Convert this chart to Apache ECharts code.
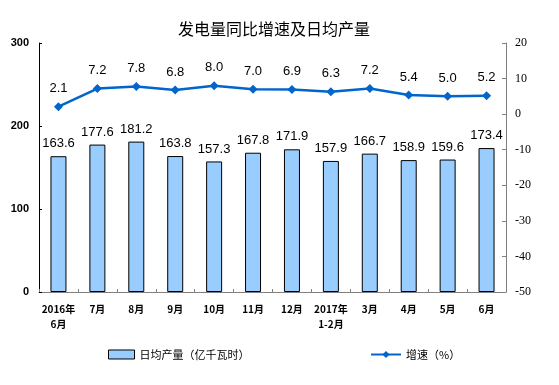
<!DOCTYPE html>
<html><head><meta charset="utf-8">
<script src="https://cdn.jsdelivr.net/npm/echarts@6/dist/echarts.min.js"></script>
<style>html,body{margin:0;padding:0;background:#fff}#c{width:559px;height:385px}</style>
</head><body><div id="c"></div>
<script>
const categories = ["2016年\n6月","7月","8月","9月","10月","11月","12月","2017年\n1-2月","3月","4月","5月","6月"];
const dailyOutput = [163.6,177.6,181.2,163.8,157.3,167.8,171.9,157.9,166.7,158.9,159.6,173.4];
const growthRate = [2.1,7.2,7.8,6.8,8.0,7.0,6.9,6.3,7.2,5.4,5.0,5.2];
const leftTicks = [0,100,200,300];
const rightTicks = [-50,-40,-30,-20,-10,0,10,20];

const chart = echarts.init(document.getElementById('c'));
const cjk = '"Noto Sans CJK SC", "Liberation Sans", sans-serif';
chart.setOption({
  animation:false,
  title:{text:'发电量同比增速及日均产量',left:269,textAlign:'center',top:16,
    textStyle:{fontFamily:cjk,fontSize:16,fontWeight:'normal',color:'#000'}},
  grid:{left:39,right:53,top:43,bottom:93},
  legend:[
    {data:[{name:'日均产量（亿千瓦时）',icon:'rect'}],left:103,top:344,itemWidth:26,itemHeight:9,itemGap:4,
     itemStyle:{borderColor:'#000',borderWidth:1},
     textStyle:{fontFamily:cjk,fontSize:11,color:'#000'}},
    {data:['增速（%）'],left:365,top:344,itemWidth:30,itemHeight:9,
     textStyle:{fontFamily:cjk,fontSize:11,color:'#000'}}
  ],
  xAxis:{type:'category',data:categories,
    axisLine:{lineStyle:{color:'#808080',width:1}},
    axisTick:{show:true,inside:true,length:3,lineStyle:{color:'#808080'}},
    axisLabel:{fontFamily:cjk,fontSize:10,fontWeight:'bold',color:'#000',margin:10,lineHeight:15,interval:0}},
  yAxis:[
    {type:'value',min:leftTicks[0],max:leftTicks[leftTicks.length-1],interval:100,
     splitLine:{show:false},
     axisLine:{show:true,lineStyle:{color:'#000'}},
     axisTick:{show:true,inside:true,length:3,lineStyle:{color:'#000'}},
     axisLabel:{fontFamily:'"Liberation Sans", sans-serif',fontSize:11,fontWeight:'bold',color:'#000',margin:10}},
    {type:'value',min:rightTicks[0],max:rightTicks[rightTicks.length-1],interval:10,
     splitLine:{show:false},
     axisLine:{show:true,lineStyle:{color:'#808080'}},
     axisTick:{show:true,inside:true,length:4,lineStyle:{color:'#808080'}},
     axisLabel:{fontFamily:'"Liberation Serif", serif',fontSize:12,color:'#000',margin:9}}
  ],
  series:[
    {name:'日均产量（亿千瓦时）',type:'bar',data:dailyOutput,barWidth:16,
     itemStyle:{color:'#99CCFF',borderColor:'#000',borderWidth:1},
     label:{show:true,position:'top',distance:6,fontFamily:'"Liberation Sans", sans-serif',fontSize:13,color:'#000',formatter:p=>p.value.toFixed(1)}},
    {name:'增速（%）',type:'line',yAxisIndex:1,data:growthRate,
     symbol:'diamond',symbolSize:9,
     lineStyle:{color:'#0066CC',width:2.5},itemStyle:{color:'#0066CC'},
     label:{show:true,position:'top',distance:7,fontFamily:'"Liberation Sans", sans-serif',fontSize:13,color:'#000',formatter:p=>p.value.toFixed(1)}}
  ]
});
</script></body></html>
